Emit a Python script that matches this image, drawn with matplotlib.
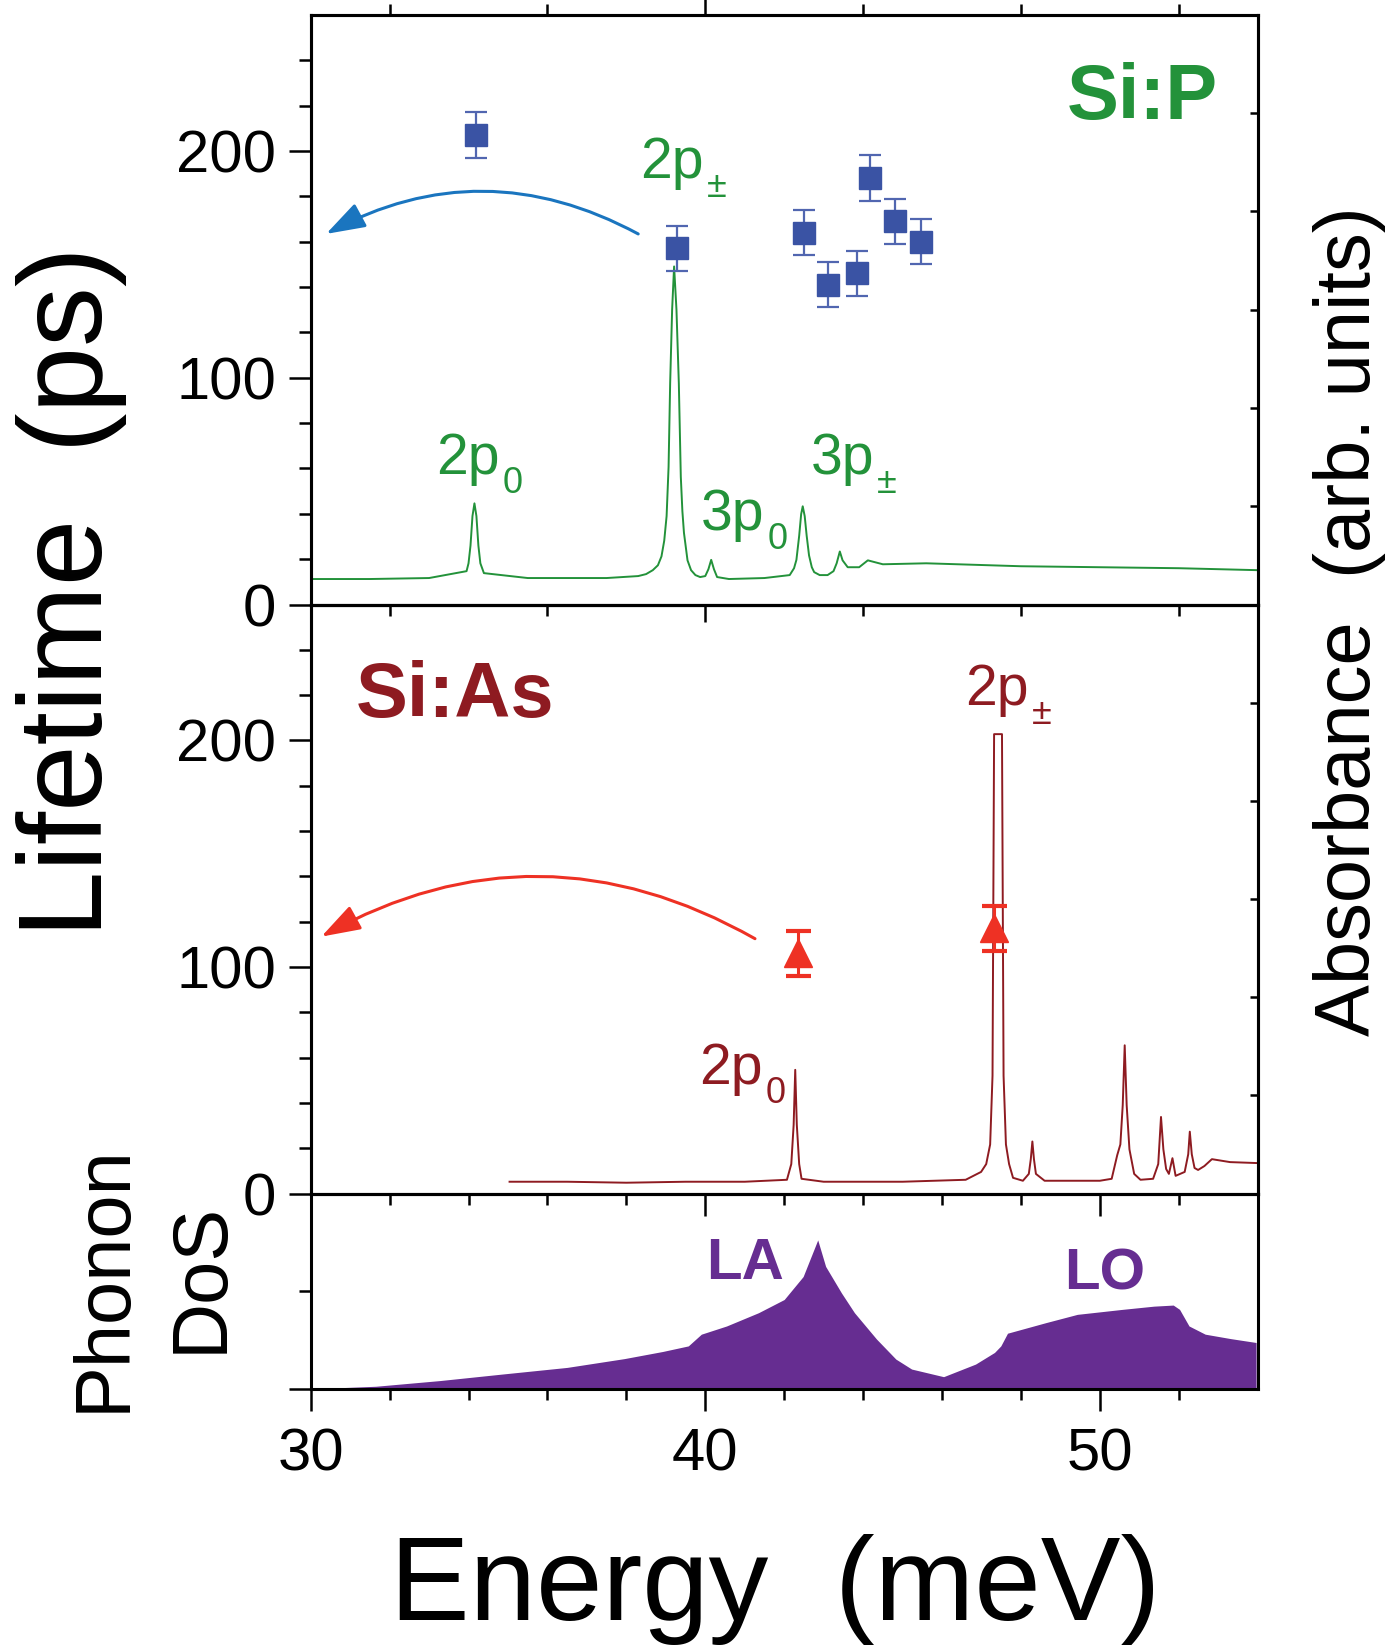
# Si:P / Si:As lifetimes with absorbance spectra and the Si phonon density of states
import numpy as np
import matplotlib.pyplot as plt
from matplotlib.patches import FancyArrowPatch

plt.rcParams['font.family'] = ['Liberation Sans', 'DejaVu Sans']

# lifetimes (ps)
sip_energy = [34.20, 39.29, 42.50, 43.12, 43.84, 44.17, 44.81, 45.46]
sip_life = [207, 157, 164, 141, 146, 188, 169, 160]
sip_err = [10, 10, 10, 10, 10, 10, 10, 10]

sias_energy = [42.34, 47.32]
sias_life = [106, 117]
sias_err = [10, 10]

# absorbance, Si:P (arb. units, 0-6 over the panel)
sip_spec_e = [30.0, 31.5, 33.0, 33.95, 34.0, 34.05, 34.10, 34.15, 34.20, 34.25, 34.30,
              34.39, 35.5, 37.5, 38.3, 38.5, 38.67, 38.8, 38.89, 38.96, 39.02, 39.07,
              39.11, 39.16, 39.21, 39.27, 39.33, 39.38, 39.42, 39.46, 39.55, 39.64, 39.75,
              39.87, 40.0, 40.08, 40.15, 40.22, 40.3, 40.6, 41.5, 42.14, 42.25, 42.31,
              42.38, 42.43, 42.47, 42.52, 42.57, 42.63, 42.70, 42.76, 42.9, 43.1, 43.25,
              43.33, 43.41, 43.48, 43.61, 43.9, 44.12, 44.5, 45.6, 48.0, 50.0, 52.0, 54.0]
sip_spec_a = [0.26, 0.26, 0.27, 0.34, 0.42, 0.60, 0.90, 1.03, 0.90, 0.60, 0.42,
              0.32, 0.27, 0.27, 0.29, 0.31, 0.35, 0.40, 0.49, 0.65, 0.90, 1.40,
              2.25, 3.00, 3.44, 3.00, 2.25, 1.30, 0.95, 0.73, 0.45, 0.35, 0.30,
              0.28, 0.29, 0.36, 0.455, 0.36, 0.28, 0.26, 0.27, 0.30, 0.37, 0.455,
              0.70, 0.92, 1.00, 0.90, 0.70, 0.50, 0.38, 0.33, 0.30, 0.30, 0.34,
              0.42, 0.54, 0.45, 0.38, 0.38, 0.45, 0.41, 0.42, 0.39, 0.38, 0.37, 0.35]

# absorbance, Si:As
sias_spec_e = [35.04, 36.5, 38.0, 39.5, 41.0, 42.07, 42.18, 42.24, 42.28, 42.32, 42.38,
               42.44, 43.0, 45.0, 46.6, 46.99, 47.12, 47.22, 47.28, 47.32, 47.38, 47.48,
               47.52, 47.56, 47.62, 47.70, 47.8, 48.05, 48.2, 48.25, 48.29, 48.33, 48.38,
               48.6, 50.0, 50.3, 50.44, 50.52, 50.58, 50.63, 50.68, 50.75, 50.87, 51.03,
               51.35, 51.48, 51.55, 51.61, 51.68, 51.75, 51.84, 51.92, 52.15, 52.24, 52.28,
               52.33, 52.40, 52.49, 52.65, 52.84, 53.3, 54.0]
sias_spec_a = [0.12, 0.12, 0.11, 0.12, 0.12, 0.14, 0.30, 0.70, 1.26, 0.70, 0.30,
               0.15, 0.12, 0.12, 0.14, 0.22, 0.30, 0.50, 1.20, 4.68, 4.68, 4.68,
               4.68, 1.20, 0.50, 0.30, 0.16, 0.13, 0.20, 0.35, 0.53, 0.35, 0.20,
               0.13, 0.13, 0.15, 0.39, 0.50, 0.90, 1.51, 0.90, 0.45, 0.20, 0.14,
               0.15, 0.30, 0.78, 0.45, 0.25, 0.20, 0.36, 0.18, 0.22, 0.40, 0.63,
               0.40, 0.26, 0.24, 0.28, 0.35, 0.32, 0.31]

# phonon density of states
dos_e = [30.0, 31.65, 33.27, 34.88, 36.5, 37.95, 38.92, 39.57, 39.9, 40.54, 41.35,
         42.0, 42.48, 42.85, 43.05, 43.45, 43.78, 44.34, 44.83, 45.23, 46.04, 46.85,
         47.33, 47.49, 47.66, 48.63, 49.43, 50.57, 51.37, 51.86, 52.02, 52.26, 52.67,
         53.31, 53.96]
dos_v = [0.0, 0.027, 0.085, 0.153, 0.22, 0.31, 0.383, 0.44, 0.56, 0.644, 0.78,
         0.915, 1.15, 1.525, 1.254, 0.983, 0.78, 0.51, 0.305, 0.203, 0.125, 0.254,
         0.373, 0.44, 0.57, 0.678, 0.763, 0.814, 0.847, 0.858, 0.814, 0.644, 0.56,
         0.515, 0.475]

# arrows pointing to the lifetime axis: start, end
arrow_p = [(38.30, 163.4), (30.39, 163.4)]
arrow_as = [(41.26, 112.5), (30.27, 113.4)]

green = '#23923a'
blue = '#3a53a4'
blue_arrow = '#1a75bf'
darkred = '#8e1b21'
red = '#ee3124'
purple = '#662d91'


def peak_label(ax, x, y, main, sub, color):
    # "2p" with a low-set subscript, as in the figure
    t = ax.text(x, y, main, color=color, fontsize=41, va='baseline')
    ax.annotate(sub, xy=(1, 0), xycoords=t, xytext=(2, -5), textcoords='offset points',
                color=color, fontsize=26, ha='left', va='baseline')


fig = plt.figure(figsize=(13.92, 16.46), dpi=100)
ax1 = fig.add_axes([0.2232, 0.6327, 0.6803, 0.3583])
ax2 = fig.add_axes([0.2232, 0.2749, 0.6803, 0.3578])
ax3 = fig.add_axes([0.2232, 0.1562, 0.6803, 0.1187])

# spectra on twin axes (right side, arbitrary units)
ax1b = ax1.twinx()
ax1b.plot(sip_spec_e, sip_spec_a, color=green, lw=1.4)
ax2b = ax2.twinx()
ax2b.plot(sias_spec_e, sias_spec_a, color=darkred, lw=1.4)
for tw in (ax1b, ax2b):
    tw.set_ylim(0, 6)
    tw.set_yticks([1, 2, 3, 4, 5])
    tw.tick_params(axis='y', direction='in', length=6, width=1.8, labelright=False)

# lifetimes on top of the spectra
for a in (ax1, ax2, ax3):
    a.patch.set_visible(False)
ax1.set_zorder(ax1b.get_zorder() + 1)
ax2.set_zorder(ax2b.get_zorder() + 1)

ax1.errorbar(sip_energy, sip_life, yerr=sip_err, fmt='s', ms=16, color=blue,
             ecolor='#5166b0', elinewidth=1.6, capsize=8, capthick=1.6)
ax2.errorbar(sias_energy, sias_life, yerr=sias_err, fmt='^', ms=20, color=red,
             ecolor=red, elinewidth=2.2, capsize=9, capthick=3)

for (start, end), col, rad in ((arrow_p, blue_arrow, 0.27), (arrow_as, red, 0.28)):
    target = ax1 if col == blue_arrow else ax2
    target.add_patch(FancyArrowPatch(start, end, connectionstyle=f'arc3,rad={rad}',
                                     arrowstyle='-|>,head_length=0.6,head_width=0.2',
                                     mutation_scale=40, color=col, lw=2.2,
                                     shrinkA=0, shrinkB=0))

ax3.fill_between(dos_e, dos_v, color=purple, lw=0)

# axes, ticks
for a in (ax1, ax2):
    a.set_xlim(30, 54)
    a.set_ylim(0, 260)
    a.set_yticks([0, 100, 200])
    a.set_yticks([20, 40, 60, 80, 120, 140, 160, 180, 220, 240], minor=True)
    a.tick_params(axis='y', which='major', direction='out', length=16, width=1.8,
                  labelsize=43, pad=9)
    a.tick_params(axis='y', which='minor', direction='out', length=8.5, width=1.8)
ax1.set_xticks([40])
ax1.set_xticks([32, 36, 44, 48, 52], minor=True)
ax1.tick_params(axis='x', which='both', direction='out', width=1.8, top=True,
                labelbottom=False)
ax1.tick_params(axis='x', which='major', length=12)
ax1.tick_params(axis='x', which='minor', length=8)

for a in (ax2, ax3):
    a.set_xlim(30, 54)
    a.set_xticks([30, 40, 50])
    a.set_xticks(np.arange(32, 54, 2), minor=True)
    a.tick_params(axis='x', which='major', direction='out', length=16, width=1.8,
                  labelsize=43, pad=12)
    a.tick_params(axis='x', which='minor', direction='out', length=8, width=1.8)
ax2.tick_params(axis='x', labelbottom=False)

ax3.set_ylim(0, 2)
ax3.set_yticks([0])
ax3.set_yticks([1], minor=True)
ax3.tick_params(axis='y', which='major', direction='out', length=16, width=1.8,
                labelleft=False)
ax3.tick_params(axis='y', which='minor', direction='out', length=8.5, width=1.8)

for a in (ax1, ax2, ax3, ax1b, ax2b):
    for s in a.spines.values():
        s.set_linewidth(2.2)

# labels inside the panels
ax1.text(53.0, 214, 'Si:P', color=green, fontsize=56, fontweight='bold',
         ha='right', va='baseline')
peak_label(ax1, 38.35, 188, '2p', '±', green)
peak_label(ax1, 33.18, 57.4, '2p', '0', green)
peak_label(ax1, 39.89, 32.9, '3p', '0', green)
peak_label(ax1, 42.67, 57.4, '3p', '±', green)

ax2.text(31.13, 210.5, 'Si:As', color=darkred, fontsize=56, fontweight='bold',
         va='baseline')
peak_label(ax2, 46.59, 215.6, '2p', '±', darkred)
peak_label(ax2, 39.85, 48.4, '2p', '0', darkred)

ax3.text(40.02, 1.12, 'LA', color=purple, fontsize=42, fontweight='bold', va='baseline')
ax3.text(49.1, 1.02, 'LO', color=purple, fontsize=42, fontweight='bold', va='baseline')

# axis titles
fig.text(0.0733, 0.6403, 'Lifetime  (ps)', fontsize=86, rotation=90,
         rotation_mode='anchor', ha='center', va='baseline')
fig.text(0.5568, 0.0158, 'Energy  (meV)', fontsize=86, ha='center', va='baseline')
fig.text(0.984, 0.6227, 'Absorbance  (arb. units)', fontsize=56, rotation=90,
         rotation_mode='anchor', ha='center', va='baseline')
fig.text(0.0898, 0.2233, 'Phonon', fontsize=56, rotation=90,
         rotation_mode='anchor', ha='center', va='baseline')
fig.text(0.1595, 0.2239, 'DoS', fontsize=56, rotation=90,
         rotation_mode='anchor', ha='center', va='baseline')

fig.savefig('out.png', dpi=100)
